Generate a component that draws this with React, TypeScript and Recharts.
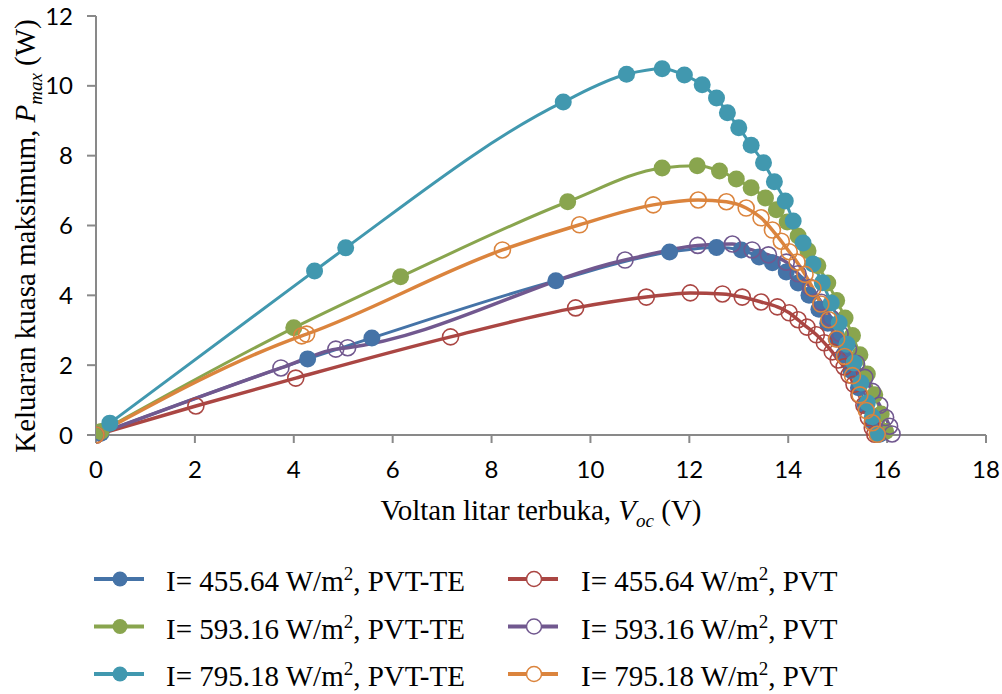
import React from "react";
import { LineChart, Line, XAxis, YAxis, Legend } from "recharts";

// ---- data (Voc in V, Pmax in W) ----
const te455V = [0.1, 4.28, 5.58, 9.3, 11.6, 12.55, 13.05, 13.41, 13.68, 13.96, 14.2, 14.42, 14.62, 14.8, 14.97, 15.12, 15.27, 15.42, 15.56, 15.7, 15.85];
const te455P = [0.05, 2.18, 2.78, 4.42, 5.24, 5.37, 5.3, 5.1, 4.93, 4.67, 4.35, 4.0, 3.6, 3.2, 2.75, 2.3, 1.85, 1.35, 0.85, 0.4, 0.02];

const pvt455V = [0, 2.02, 4.04, 7.17, 9.7, 11.13, 12.02, 12.67, 13.07, 13.45, 13.78, 14.02, 14.2, 14.38, 14.57, 14.73, 14.89, 15.01, 15.13, 15.23, 15.33, 15.43, 15.53, 15.62, 15.7, 15.75];
const pvt455P = [0, 0.83, 1.63, 2.81, 3.64, 3.95, 4.07, 4.04, 3.95, 3.81, 3.67, 3.5, 3.3, 3.09, 2.87, 2.64, 2.38, 2.15, 1.95, 1.72, 1.45, 1.15, 0.85, 0.5, 0.2, 0.02];

const te593V = [0.1, 4.0, 6.16, 9.54, 11.45, 12.16, 12.61, 12.95, 13.25, 13.54, 13.76, 13.98, 14.2, 14.4, 14.6, 14.8, 14.98, 15.15, 15.3, 15.45, 15.6, 15.75, 15.88, 15.97];
const te593P = [0.1, 3.07, 4.53, 6.68, 7.65, 7.71, 7.56, 7.33, 7.08, 6.79, 6.45, 6.1, 5.7, 5.28, 4.85, 4.35, 3.85, 3.35, 2.85, 2.3, 1.75, 1.15, 0.6, 0.1];

const pvt593V = [0, 3.74, 4.85, 5.09, 10.7, 12.17, 12.87, 13.27, 13.6, 13.96, 14.2, 14.45, 14.67, 14.87, 15.05, 15.22, 15.38, 15.55, 15.7, 15.85, 15.97, 16.05, 16.1];
const pvt593P = [0, 1.92, 2.46, 2.5, 5.01, 5.43, 5.47, 5.3, 5.16, 4.95, 4.62, 4.22, 3.8, 3.35, 2.9, 2.45, 2.05, 1.65, 1.25, 0.85, 0.5, 0.25, 0.03];

const te795V = [0.28, 4.42, 5.05, 9.45, 10.73, 11.45, 11.9, 12.26, 12.55, 12.77, 13.0, 13.25, 13.5, 13.72, 13.94, 14.1, 14.3, 14.5, 14.69, 14.87, 15.03, 15.19, 15.33, 15.47, 15.6, 15.7, 15.8];
const te795P = [0.34, 4.7, 5.36, 9.54, 10.33, 10.49, 10.31, 10.03, 9.65, 9.23, 8.8, 8.3, 7.8, 7.25, 6.7, 6.13, 5.5, 4.9, 4.36, 3.78, 3.21, 2.6, 2.06, 1.49, 0.92, 0.52, 0.02];

const pvt795V = [0, 4.16, 4.26, 8.22, 9.78, 11.27, 12.18, 12.75, 13.15, 13.45, 13.68, 13.86, 14.02, 14.18, 14.34, 14.5, 14.66, 14.82, 14.98, 15.14, 15.3, 15.45, 15.58, 15.7, 15.8];
const pvt795P = [0, 2.84, 2.89, 5.3, 6.02, 6.59, 6.73, 6.68, 6.5, 6.22, 5.87, 5.55, 5.25, 4.95, 4.6, 4.2, 3.75, 3.3, 2.75, 2.25, 1.7, 1.15, 0.7, 0.35, 0.02];

const xTicks = [0, 2, 4, 6, 8, 10, 12, 14, 16, 18];
const yTicks = [0, 2, 4, 6, 8, 10, 12];

const seriesLabels = ["455.64", "455.64", "593.16", "593.16", "795.18", "795.18"];
const seriesKinds = ["PVT-TE", "PVT", "PVT-TE", "PVT", "PVT-TE", "PVT"];

const toPoints = (v: number[], p: number[]) => v.map((x, i) => ({ x, y: p[i] }));

const COLORS = {
  blue: "#4573A7",
  red: "#AA4643",
  green: "#89A54E",
  purple: "#71588F",
  teal: "#4198AF",
  orange: "#DB843D",
};

const series = [
  { name: "I= 455.64 W/m2, PVT-TE", data: toPoints(te455V, te455P), color: COLORS.blue, filled: true },
  { name: "I= 455.64 W/m2, PVT", data: toPoints(pvt455V, pvt455P), color: COLORS.red, filled: false },
  { name: "I= 593.16 W/m2, PVT-TE", data: toPoints(te593V, te593P), color: COLORS.green, filled: true },
  { name: "I= 593.16 W/m2, PVT", data: toPoints(pvt593V, pvt593P), color: COLORS.purple, filled: false },
  { name: "I= 795.18 W/m2, PVT-TE", data: toPoints(te795V, te795P), color: COLORS.teal, filled: true },
  { name: "I= 795.18 W/m2, PVT", data: toPoints(pvt795V, pvt795P), color: COLORS.orange, filled: false },
];

const SERIF = "'Liberation Serif', 'Times New Roman', serif";
const AXIS = "#898989";

const LegendContent = () => {
  // legend arranged in two columns (PVT-TE left, PVT right)
  const order = [0, 2, 4, 1, 3, 5];
  return (
    <svg width={1002} height={139} style={{ display: "block" }}>
      {order.map((si, k) => {
        const s = series[si];
        const col = k < 3 ? 0 : 1;
        const row = k % 3;
        const lx = col === 0 ? 94 : 508;
        const tx = col === 0 ? 166 : 581;
        const cy = 24 + row * 47.5;
        return (
          <g key={si}>
            <line x1={lx} x2={lx + 50} y1={cy} y2={cy} stroke={s.color} strokeWidth={4} />
            <circle cx={lx + 26} cy={cy} r={7.5} fill={s.filled ? s.color : "#fff"} stroke={s.color} strokeWidth={s.filled ? 0 : 1.5} />
            <text x={tx} y={cy + 12} fontFamily={SERIF} fontSize={29} fill="#000">
              {`I= ${seriesLabels[si]} W/m`}
              <tspan fontSize={19} dy={-11}>2</tspan>
              <tspan dy={11}>{`, ${seriesKinds[si]}`}</tspan>
            </text>
          </g>
        );
      })}
    </svg>
  );
};

export default function App() {
  return (
    <div style={{ position: "absolute", left: 0, top: 0, width: 1002, height: 694, background: "#fff" }}>
      <LineChart width={1002} height={694} margin={{ top: 16, right: 16, bottom: 219, left: 16 }}>
        <XAxis
          dataKey="x"
          type="number"
          domain={[0, 18]}
          ticks={xTicks}
          allowDataOverflow
          height={40}
          stroke={AXIS}
          strokeWidth={2}
          tickSize={8}
          tickMargin={18}
          tick={{ fill: "#000", fontFamily: "Lato, 'Open Sans', sans-serif", fontSize: 24 }}
        />
        <YAxis
          type="number"
          domain={[0, 12]}
          ticks={yTicks}
          width={80}
          stroke={AXIS}
          strokeWidth={2}
          tickSize={9}
          tickMargin={14}
          tick={{ fill: "#000", fontFamily: "Lato, 'Open Sans', sans-serif", fontSize: 24 }}
        />
        {series.map((s) => (
          <Line
            key={s.name}
            data={s.data}
            dataKey="y"
            name={s.name}
            type="monotone"
            stroke={s.color}
            strokeWidth={s.filled ? 3 : 3.5}
            dot={
              s.filled
                ? { r: 8.5, fill: s.color, stroke: s.color, strokeWidth: 0 }
                : { r: 8, fill: "none", stroke: s.color, strokeWidth: 1.6 }
            }
            activeDot={false}
            isAnimationActive={false}
          />
        ))}
        <text x={541} y={520} textAnchor="middle" fontFamily={SERIF} fontSize={29} fill="#000">
          Voltan litar terbuka, <tspan fontStyle="italic">V</tspan>
          <tspan fontStyle="italic" fontSize={19} dy={7}>oc</tspan>
          <tspan dy={-7}> (V)</tspan>
        </text>
        <text
          x={35}
          y={236}
          transform="rotate(-90 35 236)"
          textAnchor="middle"
          fontFamily={SERIF}
          fontSize={29}
          fill="#000"
        >
          Keluaran kuasa maksimum, <tspan fontStyle="italic">P</tspan>
          <tspan fontStyle="italic" fontSize={19} dy={7}>max</tspan>
          <tspan dy={-7}> (W)</tspan>
        </text>
        <Legend
          layout="horizontal"
          align="center"
          verticalAlign="middle"
          wrapperStyle={{ top: 555, left: 0, width: 1002, height: 139 }}
          content={LegendContent}
        />
      </LineChart>
    </div>
  );
}
